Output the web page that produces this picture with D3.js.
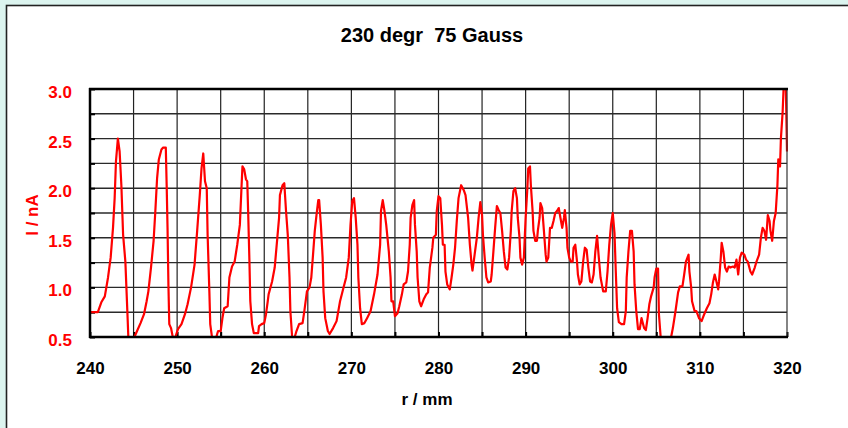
<!DOCTYPE html>
<html>
<head>
<meta charset="utf-8">
<script src="https://cdn.jsdelivr.net/npm/d3@7"></script>
<style>
  body { margin: 0; background: #dcf4ef; }
  svg { display: block; font-family: "Liberation Sans", Arial, sans-serif; }
</style>
</head>
<body>
<svg id="chart" width="848" height="428"></svg>
<script>
"use strict";

var title = "230 degr  75 Gauss";
var xLabel = "r / mm";
var yLabel = "I / nA";
var xTicks = [240, 250, 260, 270, 280, 290, 300, 310, 320];
var yTicks = [0.5, 1.0, 1.5, 2.0, 2.5, 3.0];

// r (mm) and current (nA)
var rValues = [
  240.0, 240.9, 241.3, 241.7, 242.07, 242.37, 242.64, 242.83, 242.98, 243.2, 243.4, 243.6, 243.8, 244.06, 244.3, 244.4,
  245.1, 245.4, 245.8, 246.2, 246.5, 246.7, 247.0, 247.3, 247.5, 247.7, 247.9, 248.2, 248.4, 248.7, 248.8, 248.9, 249.0, 249.1, 249.3, 249.5, 249.8,
  250.1, 250.5, 250.9, 251.2, 251.6, 252.0, 252.3, 252.6, 252.8, 253.0, 253.2, 253.4, 253.5, 253.7, 253.8, 254.0, 254.5, 254.7,
  255.0, 255.2, 255.4, 255.8, 256.0, 256.3, 256.6, 256.9, 257.2, 257.4, 257.5, 257.7, 257.9, 258.05, 258.15, 258.3, 258.4, 258.6, 258.8, 259.3, 259.4, 259.7,
  260.0, 260.2, 260.4, 260.5, 260.9, 261.2, 261.5, 261.7, 261.8, 262.1, 262.3, 262.5, 262.7, 262.9, 263.0, 263.2, 263.5, 263.7, 264.0, 264.4, 264.6, 264.9,
  265.2, 265.4, 265.6, 265.8, 266.0, 266.2, 266.3, 266.5, 266.7, 266.8, 267.0, 267.3, 267.5, 267.9, 268.3, 268.7, 269.1, 269.4, 269.7, 269.9,
  270.1, 270.3, 270.5, 270.7, 270.8, 271.0, 271.2, 271.5, 271.8, 272.2, 272.6, 273.0, 273.3, 273.4, 273.6, 273.8, 274.0, 274.3, 274.5, 274.6, 274.8,
  275.0, 275.3, 275.5, 275.8, 276.0, 276.3, 276.5, 276.7, 276.8, 277.0, 277.2, 277.3, 277.5, 277.6, 277.8, 278.0, 278.3, 278.6, 278.8, 279.0, 279.3, 279.4, 279.7, 279.8,
  280.0, 280.2, 280.4, 280.5, 280.7, 280.8, 281.0, 281.3, 281.5, 281.7, 281.9, 282.1, 282.3, 282.6, 282.9, 283.1, 283.4, 283.6, 283.8, 283.9, 284.1, 284.4, 284.6, 284.8,
  285.0, 285.1, 285.3, 285.5, 285.7, 286.0, 286.1, 286.3, 286.5, 286.7, 286.9, 287.1, 287.3, 287.5, 287.7, 287.9, 288.1, 288.3, 288.4, 288.6, 288.8, 289.0, 289.1, 289.3, 289.4, 289.6, 289.8,
  290.0, 290.2, 290.3, 290.5, 290.6, 290.8, 290.9, 291.1, 291.3, 291.4, 291.6, 291.7, 291.9, 292.1, 292.3, 292.4, 292.6, 292.8, 293.0, 293.2, 293.4, 293.6, 293.8, 294.0, 294.2, 294.4, 294.5, 294.7, 294.8,
  295.0, 295.2, 295.4, 295.5, 295.7, 295.9, 296.0, 296.2, 296.4, 296.6, 296.8, 297.0, 297.2, 297.4, 297.6, 297.8, 298.0, 298.2, 298.4, 298.6, 298.9, 299.2, 299.4, 299.6, 299.8,
  300.0, 300.2, 300.35, 300.5, 300.7, 301.0, 301.3, 301.5, 301.6, 301.8, 302.0, 302.2, 302.4, 302.5, 302.7, 302.9, 303.1, 303.3, 303.6, 303.8, 304.0, 304.2, 304.4, 304.7, 304.8,
  305.0, 305.2, 305.3, 305.5, 306.7, 306.9, 307.2, 307.5, 307.7, 308.0, 308.2, 308.4, 308.7, 308.8, 309.0, 309.1, 309.4, 309.6, 309.9,
  310.2, 310.5, 310.8, 311.1, 311.3, 311.5, 311.7, 311.9, 312.1, 312.2, 312.4, 312.5, 312.7, 312.9, 313.1, 313.3, 313.5, 313.8, 314.0, 314.2, 314.4, 314.6, 314.8,
  315.1, 315.3, 315.5, 315.8, 316.0, 316.3, 316.5, 316.8, 317.0, 317.2, 317.4, 317.6, 317.8, 318.0, 318.1, 318.3, 318.5, 318.7, 318.9, 319.0, 319.2, 319.3, 319.5, 319.65, 319.85, 320.0
];
var currentValues = [
  0.75, 0.75, 0.85, 0.91, 1.10, 1.30, 1.60, 1.90, 2.27, 2.50, 2.37, 2.03, 1.53, 1.26, 0.73, 0.50,
  0.50, 0.56, 0.64, 0.73, 0.86, 0.96, 1.20, 1.47, 1.77, 2.10, 2.29, 2.39, 2.41, 2.41, 2.03, 1.60, 1.03, 0.63, 0.59, 0.50, 0.50,
  0.58, 0.63, 0.73, 0.83, 1.00, 1.23, 1.57, 1.93, 2.20, 2.35, 2.07, 2.00, 1.53, 0.96, 0.63, 0.50, 0.50, 0.56,
  0.56, 0.69, 0.79, 0.81, 1.10, 1.21, 1.26, 1.43, 1.63, 2.03, 2.22, 2.19, 2.09, 2.07, 1.77, 1.26, 0.86, 0.63, 0.54, 0.54, 0.61, 0.63,
  0.64, 0.73, 0.86, 0.93, 1.06, 1.20, 1.50, 1.70, 1.93, 2.03, 2.05, 1.77, 1.53, 1.10, 0.76, 0.50, 0.50, 0.56, 0.63, 0.64, 0.76, 0.96,
  1.00, 1.10, 1.33, 1.57, 1.73, 1.88, 1.88, 1.63, 1.30, 0.96, 0.69, 0.56, 0.53, 0.59, 0.66, 0.86, 1.00, 1.10, 1.30, 1.63,
  1.87, 1.90, 1.70, 1.43, 1.10, 0.79, 0.63, 0.64, 0.69, 0.76, 0.93, 1.13, 1.43, 1.77, 1.88, 1.77, 1.63, 1.36, 1.10, 0.86, 0.86,
  0.71, 0.74, 0.81, 0.93, 1.03, 1.05, 1.16, 1.43, 1.70, 1.83, 1.88, 1.63, 1.36, 1.10, 0.86, 0.81, 0.88, 0.93, 0.95, 1.20, 1.40, 1.50, 1.53, 1.77,
  1.92, 1.90, 1.63, 1.43, 1.43, 1.16, 1.03, 0.98, 1.10, 1.23, 1.40, 1.67, 1.90, 2.03, 1.98, 1.93, 1.70, 1.43, 1.23, 1.17, 1.30, 1.50, 1.70, 1.86,
  1.73, 1.53, 1.30, 1.10, 1.05, 1.06, 1.13, 1.36, 1.60, 1.82, 1.78, 1.75, 1.57, 1.36, 1.20, 1.18, 1.30, 1.57, 1.77, 1.97, 2.00, 1.90, 1.70, 1.50, 1.30, 1.23, 1.30,
  1.70, 2.00, 2.20, 2.22, 2.03, 1.77, 1.57, 1.47, 1.47, 1.57, 1.70, 1.85, 1.80, 1.57, 1.33, 1.26, 1.30, 1.60, 1.60, 1.67, 1.75, 1.77, 1.80, 1.70, 1.60, 1.70, 1.78, 1.60, 1.40,
  1.30, 1.26, 1.26, 1.40, 1.43, 1.26, 1.13, 1.03, 1.06, 1.26, 1.40, 1.38, 1.20, 1.06, 1.05, 1.13, 1.36, 1.52, 1.30, 1.10, 0.96, 0.96, 1.16, 1.43, 1.63,
  1.75, 1.55, 1.16, 0.79, 0.65, 0.63, 0.63, 0.76, 1.10, 1.36, 1.57, 1.57, 1.36, 1.03, 0.76, 0.58, 0.58, 0.69, 0.59, 0.57, 0.69, 0.83, 0.91, 1.00, 1.10,
  1.19, 1.19, 0.73, 0.50, 0.50, 0.59, 0.76, 0.95, 1.01, 1.01, 1.13, 1.26, 1.33, 1.16, 1.00, 0.86, 0.76, 0.76, 0.69,
  0.66, 0.73, 0.79, 0.84, 0.93, 1.05, 1.13, 1.06, 0.98, 1.06, 1.30, 1.45, 1.36, 1.20, 1.16, 1.21, 1.20, 1.21, 1.20, 1.28, 1.13, 1.30, 1.35,
  1.33, 1.28, 1.26, 1.16, 1.13, 1.20, 1.26, 1.33, 1.50, 1.60, 1.57, 1.48, 1.73, 1.67, 1.57, 1.47, 1.67, 1.75, 2.03, 2.29, 2.22, 2.50, 2.77, 3.10, 3.10, 2.37
];

var data = rValues.map(function(r, i) { return { r: r, i: currentValues[i] }; });

var plotLeft = 90, plotRight = 787, plotTop = 89, plotBottom = 337;

var svg = d3.select("#chart");

// chart area with frame
svg.append("rect")
  .attr("x", 0).attr("y", 0)
  .attr("width", 848).attr("height", 428)
  .attr("fill", "#dcf4ef");
svg.append("rect")
  .attr("x", 6.5).attr("y", 5.5)
  .attr("width", 860).attr("height", 440)
  .attr("fill", "#ffffff")
  .attr("stroke", "#222")
  .attr("stroke-width", 1.6);

var x = d3.scaleLinear().domain([240, 320]).range([plotLeft, plotRight]);
var y = d3.scaleLinear().domain([0.5, 3.0]).range([plotBottom, plotTop]);

// grid
svg.append("g")
  .selectAll("line")
  .data(d3.range(245, 320, 5))
  .enter()
  .append("line")
  .attr("x1", function(d) { return x(d); })
  .attr("x2", function(d) { return x(d); })
  .attr("y1", plotTop).attr("y2", plotBottom)
  .attr("stroke", "#222")
  .attr("stroke-width", 1.2);

svg.append("g")
  .selectAll("line")
  .data(d3.range(0.75, 3.0, 0.25))
  .enter()
  .append("line")
  .attr("x1", plotLeft).attr("x2", plotRight)
  .attr("y1", function(d) { return y(d); })
  .attr("y2", function(d) { return y(d); })
  .attr("stroke", "#2a2a2a")
  .attr("stroke-width", 1.4);

// inward tick marks
svg.append("g")
  .attr("transform", "translate(" + plotLeft + ",0)")
  .call(d3.axisRight(y).tickValues(d3.range(0.5, 3.01, 0.25)).tickSize(5).tickFormat(""))
  .call(function(g) { g.select(".domain").remove(); })
  .selectAll("line").attr("stroke", "#000").attr("stroke-width", 2);

svg.append("g")
  .attr("transform", "translate(0," + plotBottom + ")")
  .call(d3.axisTop(x).tickValues(d3.range(240, 321, 5)).tickSize(5).tickFormat(""))
  .call(function(g) { g.select(".domain").remove(); })
  .selectAll("line").attr("stroke", "#000").attr("stroke-width", 2);

// the curve
svg.append("clipPath")
  .attr("id", "plotClip")
  .append("rect")
  .attr("x", plotLeft).attr("y", plotTop - 1)
  .attr("width", plotRight - plotLeft + 1).attr("height", plotBottom - plotTop + 2);

var line = d3.line()
  .x(function(d) { return x(d.r); })
  .y(function(d) { return y(d.i); });

svg.append("path")
  .datum(data)
  .attr("clip-path", "url(#plotClip)")
  .attr("fill", "none")
  .attr("stroke", "#ff0000")
  .attr("stroke-width", 2.2)
  .attr("stroke-linejoin", "round")
  .attr("d", line);

// plot border
svg.append("line").attr("x1", plotRight).attr("x2", plotRight).attr("y1", plotTop).attr("y2", plotBottom)
  .attr("stroke", "#333").attr("stroke-width", 1.2);
svg.append("line").attr("x1", plotLeft - 1).attr("x2", plotRight + 1).attr("y1", plotTop).attr("y2", plotTop)
  .attr("stroke", "#000").attr("stroke-width", 2.5);
svg.append("line").attr("x1", plotLeft - 1).attr("x2", plotRight + 1).attr("y1", plotBottom).attr("y2", plotBottom)
  .attr("stroke", "#000").attr("stroke-width", 2.5);
svg.append("line").attr("x1", plotLeft).attr("x2", plotLeft).attr("y1", plotTop - 1).attr("y2", plotBottom + 1)
  .attr("stroke", "#000").attr("stroke-width", 2.5);

// tick labels
var yAxis = svg.append("g")
  .attr("transform", "translate(" + plotLeft + ",0)")
  .call(d3.axisLeft(y).tickValues(yTicks).tickSize(0).tickPadding(18).tickFormat(d3.format(".1f")));
yAxis.select(".domain").remove();
yAxis.selectAll("text")
  .attr("dy", "0.5em")
  .attr("fill", "#ff0000")
  .style("font-size", "17px")
  .style("font-weight", "bold")
  .style("font-family", "'Liberation Sans', Arial, sans-serif");

var xAxis = svg.append("g")
  .attr("transform", "translate(0," + plotBottom + ")")
  .call(d3.axisBottom(x).tickValues(xTicks).tickSize(0).tickPadding(25).tickFormat(d3.format("d")));
xAxis.select(".domain").remove();
xAxis.selectAll("text")
  .attr("fill", "#000")
  .style("font-size", "17px")
  .style("font-weight", "bold")
  .style("font-family", "'Liberation Sans', Arial, sans-serif");

// titles
svg.append("text")
  .attr("x", 432).attr("y", 42)
  .attr("text-anchor", "middle")
  .style("font-size", "20px")
  .style("font-weight", "bold")
  .style("white-space", "pre")
  .text(title);

svg.append("text")
  .attr("x", 427).attr("y", 405)
  .attr("text-anchor", "middle")
  .style("font-size", "17px")
  .style("font-weight", "bold")
  .text(xLabel);

svg.append("text")
  .attr("transform", "translate(38,215) rotate(-90)")
  .attr("text-anchor", "middle")
  .attr("fill", "#ff0000")
  .style("font-size", "17px")
  .style("font-weight", "bold")
  .text(yLabel);
</script>
</body>
</html>
